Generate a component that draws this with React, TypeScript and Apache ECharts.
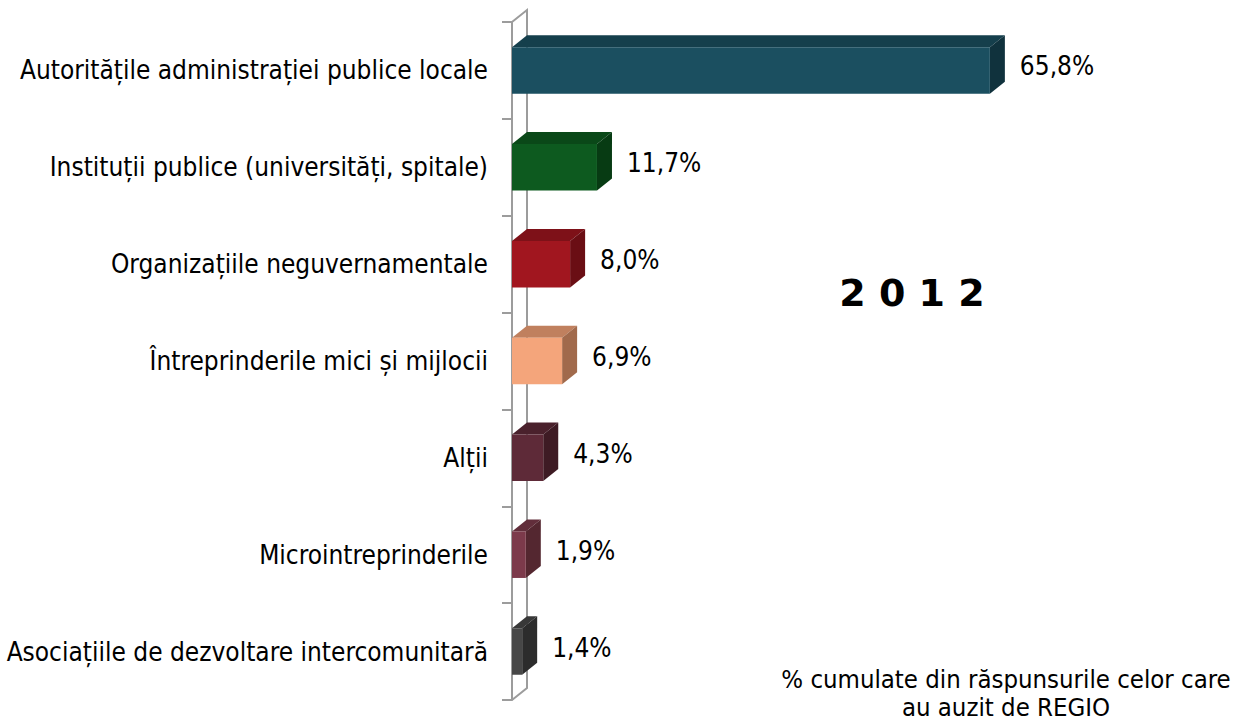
import React, { useEffect, useRef } from "react";
import * as echarts from "echarts";

const categories = [
  "Autoritățile administrației publice locale",
  "Instituții publice (universități, spitale)",
  "Organizațiile neguvernamentale",
  "Întreprinderile mici și mijlocii",
  "Alții",
  "Microintreprinderile",
  "Asociațiile de dezvoltare intercomunitară",
];
const values = [65.8, 11.7, 8.0, 6.9, 4.3, 1.9, 1.4];
const valueLabels = ["65,8%", "11,7%", "8,0%", "6,9%", "4,3%", "1,9%", "1,4%"];
const frontColors = ["#1b4f60", "#0d5a1f", "#a1161f", "#f4a57b", "#5e2a38", "#7c3a4b", "#474747"];
const topColors = ["#153f4c", "#0a4818", "#7e1118", "#c0805e", "#4a212c", "#622e3b", "#383838"];
const sideColors = ["#10323d", "#073b13", "#6a0e14", "#a16a4c", "#3e1b24", "#542730", "#2c2c2c"];
const yearTitle = "2 0 1 2";
const footnoteLines = ["% cumulate din răspunsurile celor care", "au auzit de REGIO"];

const FONT = "'DejaVu Sans Condensed', 'DejaVu Sans', sans-serif";
const GRID_LEFT = 512;
const GRID_TOP = 22;
const GRID_BOTTOM_Y = 700;
const DX = 15;
const DY = -12;

export default function App() {
  const ref = useRef<HTMLDivElement>(null);
  useEffect(() => {
    if (!ref.current) return;
    const chart = echarts.init(ref.current, null, { renderer: "svg" });
    const axisColor = "#9c9c9c";
    chart.setOption({
      animation: false,
      grid: { left: GRID_LEFT, top: GRID_TOP, bottom: 722 - GRID_BOTTOM_Y, right: 157 },
      xAxis: {
        type: "value",
        min: 0,
        max: 80,
        show: false,
      },
      yAxis: {
        type: "category",
        data: categories,
        inverse: true,
        axisLine: { show: true, lineStyle: { color: axisColor, width: 2 } },
        axisTick: { show: true, length: 10, lineStyle: { color: axisColor, width: 2 } },
        axisLabel: { color: "#000", fontSize: 26, fontFamily: FONT, margin: 24 },
        splitLine: { show: false },
      },
      graphic: [
        {
          type: "polyline",
          z: 0,
          shape: {
            points: [
              [GRID_LEFT, GRID_TOP],
              [GRID_LEFT + DX, GRID_TOP + DY],
              [GRID_LEFT + DX, GRID_BOTTOM_Y + DY],
              [GRID_LEFT, GRID_BOTTOM_Y],
            ],
          },
          style: { stroke: axisColor, lineWidth: 2, fill: null },
        },
        {
          type: "text",
          x: 912,
          y: 293,
          style: {
            text: yearTitle,
            font: `bold 38px 'DejaVu Sans', sans-serif`,
            fill: "#000",
            align: "center",
            verticalAlign: "middle",
          },
        },
        ...footnoteLines.map((t, i) => ({
          type: "text",
          x: 1006,
          y: 679 + i * 28,
          style: {
            text: t,
            font: `25.5px ${FONT}`,
            fill: "#000",
            align: "center",
            verticalAlign: "middle",
          },
        })),
      ],
      series: [
        {
          type: "custom",
          encode: { x: 0, y: 1 },
          data: values.map((v, i) => [v, i]),
          renderItem: (params: any, api: any) => {
            const idx = api.value(1);
            const v = api.value(0);
            const start = api.coord([0, idx]);
            const end = api.coord([v, idx]);
            const band = api.size([0, 1])[1];
            const h = band * 0.48;
            const x0 = start[0];
            const x1 = end[0];
            const yT = start[1] - h / 2;
            return {
              type: "group",
              children: [
                {
                  type: "polygon",
                  shape: {
                    points: [
                      [x0, yT],
                      [x0 + DX, yT + DY],
                      [x1 + DX, yT + DY],
                      [x1, yT],
                    ],
                  },
                  style: { fill: topColors[idx] },
                },
                {
                  type: "polygon",
                  shape: {
                    points: [
                      [x1, yT],
                      [x1 + DX, yT + DY],
                      [x1 + DX, yT + h + DY],
                      [x1, yT + h],
                    ],
                  },
                  style: { fill: sideColors[idx] },
                },
                {
                  type: "rect",
                  shape: { x: x0, y: yT, width: x1 - x0, height: h },
                  style: { fill: frontColors[idx] },
                },
                {
                  type: "text",
                  x: x1 + DX + 15,
                  y: start[1] - 4,
                  style: {
                    text: valueLabels[idx],
                    font: `26px ${FONT}`,
                    fill: "#000",
                    align: "left",
                    verticalAlign: "middle",
                  },
                },
              ],
            };
          },
        },
      ],
    });
    return () => chart.dispose();
  }, []);
  return <div ref={ref} style={{ width: 1250, height: 722, position: "absolute", left: 0, top: 0 }} />;
}
